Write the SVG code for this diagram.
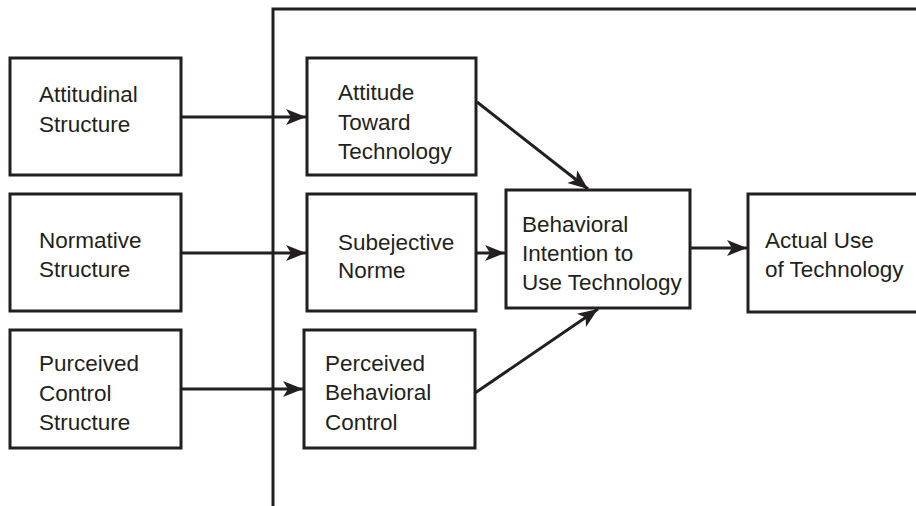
<svg xmlns="http://www.w3.org/2000/svg" width="916" height="506" viewBox="0 0 916 506">
  <style>
    .box { fill: #ffffff; stroke: #231f20; stroke-width: 3; }
    .lbl { font-family: "Liberation Sans", Arial, sans-serif; font-size: 22.5px; fill: #231f20; }
    .edge { fill: none; stroke: #231f20; stroke-width: 3; marker-end: url(#arrow); }
    .frame { fill: none; stroke: #231f20; stroke-width: 3; }
  </style>
  <defs>
    <marker id="arrow" markerUnits="userSpaceOnUse" markerWidth="22" markerHeight="18" refX="20" refY="9" orient="auto">
      <path d="M0,1 L20,9 L0,17 L5,9 Z" fill="#231f20"/>
    </marker>
  </defs>
  <rect width="916" height="506" fill="#ffffff"/>

  <!-- Boundary frame -->
  <path class="frame" d="M273,506 L273,9 L918,9"/>

  <!-- Connectors -->
  <g id="connectors">
    <line class="edge" x1="181" y1="117" x2="306" y2="117"/>
    <line class="edge" x1="181" y1="253" x2="306" y2="253"/>
    <line class="edge" x1="181" y1="389" x2="303" y2="389"/>
    <line class="edge" x1="477" y1="102" x2="588" y2="189"/>
    <line class="edge" x1="476" y1="253" x2="505" y2="253"/>
    <line class="edge" x1="475" y1="393" x2="598" y2="309"/>
    <line class="edge" x1="690" y1="248" x2="747" y2="248"/>
  </g>

  <g id="attitudinal-structure">
    <rect class="box" x="10" y="58" width="171" height="117"/>
    <text class="lbl" x="39" y="102">Attitudinal</text>
    <text class="lbl" x="39" y="132">Structure</text>
  </g>
  <g id="normative-structure">
    <rect class="box" x="10" y="194" width="171" height="117"/>
    <text class="lbl" x="39" y="248">Normative</text>
    <text class="lbl" x="39" y="277">Structure</text>
  </g>
  <g id="perceived-control-structure">
    <rect class="box" x="10" y="330" width="171" height="118"/>
    <text class="lbl" x="39" y="371">Purceived</text>
    <text class="lbl" x="39" y="401">Control</text>
    <text class="lbl" x="39" y="430">Structure</text>
  </g>

  <g id="attitude-toward-technology">
    <rect class="box" x="307" y="58" width="169" height="117"/>
    <text class="lbl" x="338" y="100">Attitude</text>
    <text class="lbl" x="338" y="130">Toward</text>
    <text class="lbl" x="338" y="159">Technology</text>
  </g>
  <g id="subjective-norme">
    <rect class="box" x="307" y="194" width="169" height="117"/>
    <text class="lbl" x="338" y="250">Subejective</text>
    <text class="lbl" x="338" y="278">Norme</text>
  </g>
  <g id="perceived-behavioral-control">
    <rect class="box" x="304" y="330" width="171" height="118"/>
    <text class="lbl" x="325" y="371">Perceived</text>
    <text class="lbl" x="325" y="400">Behavioral</text>
    <text class="lbl" x="325" y="430">Control</text>
  </g>

  <g id="behavioral-intention">
    <rect class="box" x="506" y="190" width="184" height="118"/>
    <text class="lbl" x="522" y="232">Behavioral</text>
    <text class="lbl" x="522" y="261">Intention to</text>
    <text class="lbl" x="522" y="290">Use Technology</text>
  </g>

  <g id="actual-use">
    <rect class="box" x="748" y="194" width="180" height="118"/>
    <text class="lbl" x="765" y="248">Actual Use</text>
    <text class="lbl" x="765" y="277">of Technology</text>
  </g>
</svg>
